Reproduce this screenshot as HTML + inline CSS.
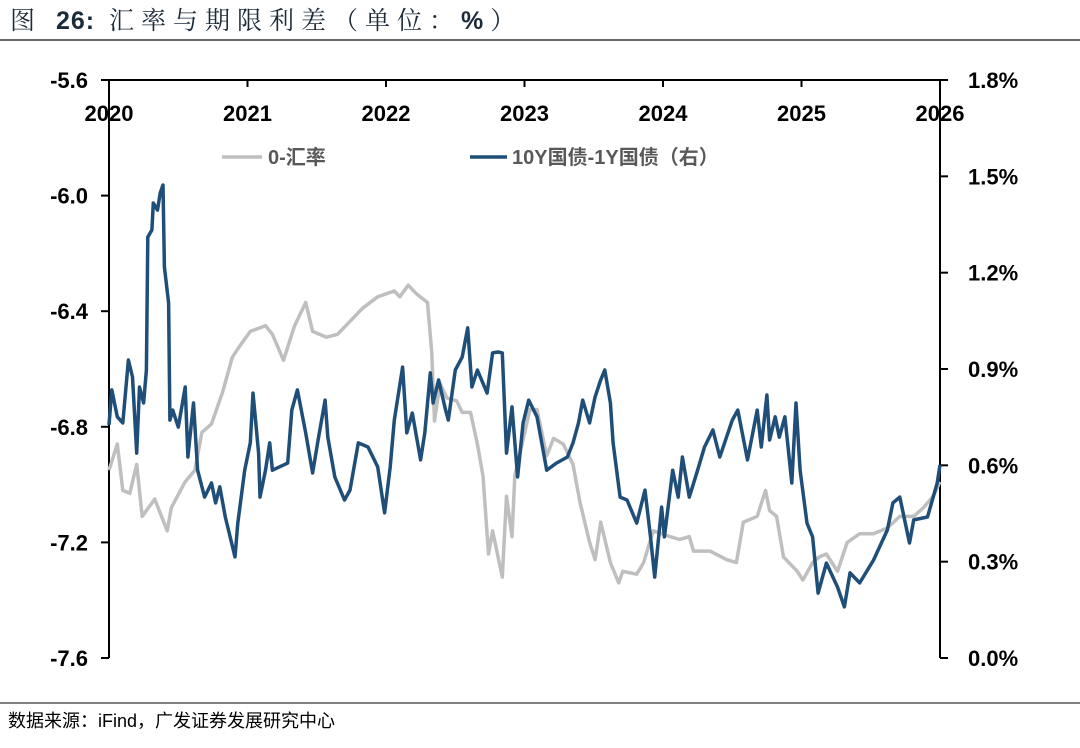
<!DOCTYPE html>
<html><head><meta charset="utf-8"><style>
body{margin:0;width:1080px;height:743px;background:#fff;overflow:hidden;font-family:"Liberation Sans","Noto Sans CJK SC",sans-serif}
</style></head><body>
<svg id="c" width="1080" height="743" xmlns="http://www.w3.org/2000/svg">
<text x="10" y="29" font-size="25" fill="#1c2b3a" letter-spacing="7" font-family="Liberation Sans, Noto Serif CJK SC, serif">图 <tspan font-weight="bold" font-family="Liberation Sans, sans-serif" letter-spacing="1">26:</tspan> 汇率与期限利差（单位：<tspan font-weight="bold" font-family="Liberation Sans, sans-serif">%</tspan>）</text>
<line x1="0" y1="40" x2="1080" y2="40" stroke="#333" stroke-width="1.5"/>
<line x1="0" y1="703" x2="1080" y2="703" stroke="#000" stroke-width="1"/>
<text x="8" y="727" font-size="18" fill="#000" font-family="Liberation Sans, Noto Sans CJK SC, sans-serif">数据来源：iFind，广发证券发展研究中心</text>
<g id="axes"></g><g id="series"></g>
<g>
<line x1="222" y1="157" x2="262" y2="157" stroke="#bfbfbf" stroke-width="3.5"/>
<text x="268" y="164" font-size="20" font-weight="bold" fill="#595959" font-family="Liberation Sans, Noto Sans CJK SC, sans-serif">0-汇率</text>
<line x1="470" y1="157" x2="507" y2="157" stroke="#1f4e79" stroke-width="3.5"/>
<text x="512" y="164" font-size="20" font-weight="bold" fill="#595959" font-family="Liberation Sans, Noto Sans CJK SC, sans-serif">10Y国债-1Y国债（右）</text>
</g>
</svg>
<script>
const yearTicks=[2020,2021,2022,2023,2024,2025,2026];
const leftTicks=[-5.6,-6.0,-6.4,-6.8,-7.2,-7.6];
const leftTickLabels=["-5.6","-6.0","-6.4","-6.8","-7.2","-7.6"];
const rightTicks=[1.8,1.5,1.2,0.9,0.6,0.3,0.0];
const rightTickLabels=["1.8%","1.5%","1.2%","0.9%","0.6%","0.3%","0.0%"];
const fxDates=[2020.00,2020.06,2020.10,2020.15,2020.20,2020.24,2020.33,2020.42,2020.45,2020.55,2020.62,2020.67,2020.74,2020.82,2020.89,2020.93,2021.02,2021.13,2021.18,2021.26,2021.34,2021.42,2021.47,2021.57,2021.65,2021.73,2021.83,2021.94,2022.06,2022.10,2022.16,2022.22,2022.30,2022.33,2022.35,2022.39,2022.44,2022.51,2022.55,2022.61,2022.66,2022.70,2022.74,2022.77,2022.84,2022.87,2022.91,2022.93,2023.04,2023.09,2023.16,2023.21,2023.28,2023.35,2023.40,2023.47,2023.51,2023.55,2023.62,2023.68,2023.71,2023.81,2023.86,2023.93,2024.05,2024.12,2024.19,2024.22,2024.34,2024.46,2024.53,2024.58,2024.68,2024.74,2024.77,2024.82,2024.87,2024.97,2025.01,2025.08,2025.13,2025.18,2025.26,2025.33,2025.42,2025.52,2025.62,2025.71,2025.81,2025.88,2025.95,2026.00];
const fxValues=[-6.95,-6.86,-7.02,-7.03,-6.93,-7.11,-7.05,-7.16,-7.08,-6.99,-6.95,-6.82,-6.79,-6.68,-6.56,-6.53,-6.47,-6.45,-6.48,-6.57,-6.45,-6.37,-6.47,-6.49,-6.48,-6.44,-6.39,-6.35,-6.33,-6.35,-6.31,-6.34,-6.37,-6.54,-6.78,-6.65,-6.70,-6.71,-6.75,-6.75,-6.86,-6.97,-7.24,-7.16,-7.32,-7.04,-7.18,-6.97,-6.74,-6.74,-6.90,-6.84,-6.86,-6.93,-7.06,-7.20,-7.26,-7.13,-7.27,-7.34,-7.30,-7.31,-7.27,-7.16,-7.18,-7.19,-7.18,-7.23,-7.23,-7.26,-7.27,-7.13,-7.11,-7.02,-7.09,-7.11,-7.25,-7.30,-7.33,-7.27,-7.25,-7.24,-7.30,-7.20,-7.17,-7.17,-7.15,-7.11,-7.11,-7.08,-7.04,-6.99];
const spDates=[2020.00,2020.02,2020.06,2020.10,2020.14,2020.17,2020.20,2020.22,2020.25,2020.27,2020.28,2020.31,2020.32,2020.35,2020.37,2020.39,2020.40,2020.43,2020.44,2020.46,2020.50,2020.55,2020.57,2020.61,2020.64,2020.69,2020.74,2020.77,2020.80,2020.84,2020.91,2020.93,2020.98,2021.02,2021.04,2021.08,2021.09,2021.13,2021.16,2021.18,2021.29,2021.32,2021.36,2021.42,2021.47,2021.51,2021.56,2021.58,2021.63,2021.70,2021.74,2021.80,2021.87,2021.94,2021.99,2022.03,2022.06,2022.12,2022.15,2022.19,2022.25,2022.28,2022.32,2022.34,2022.38,2022.43,2022.45,2022.50,2022.55,2022.59,2022.62,2022.66,2022.73,2022.77,2022.81,2022.84,2022.87,2022.91,2022.95,2022.99,2023.03,2023.09,2023.16,2023.23,2023.31,2023.35,2023.39,2023.42,2023.47,2023.51,2023.55,2023.58,2023.62,2023.64,2023.69,2023.74,2023.81,2023.87,2023.91,2023.94,2023.99,2024.01,2024.07,2024.11,2024.14,2024.19,2024.25,2024.30,2024.36,2024.41,2024.50,2024.54,2024.61,2024.68,2024.71,2024.75,2024.77,2024.81,2024.84,2024.88,2024.93,2024.96,2024.99,2025.04,2025.08,2025.12,2025.18,2025.26,2025.31,2025.35,2025.42,2025.52,2025.62,2025.66,2025.71,2025.78,2025.81,2025.91,2025.98,2026.00];
const spValues=[0.726,0.835,0.751,0.732,0.928,0.875,0.638,0.844,0.794,0.897,1.311,1.333,1.417,1.395,1.448,1.473,1.218,1.106,0.741,0.772,0.719,0.844,0.626,0.794,0.585,0.501,0.545,0.483,0.533,0.439,0.315,0.420,0.585,0.670,0.825,0.638,0.501,0.585,0.670,0.585,0.607,0.772,0.835,0.701,0.576,0.679,0.803,0.688,0.564,0.492,0.523,0.670,0.657,0.595,0.452,0.595,0.741,0.906,0.701,0.763,0.617,0.701,0.888,0.794,0.866,0.772,0.741,0.897,0.937,1.028,0.844,0.897,0.825,0.950,0.953,0.950,0.638,0.782,0.564,0.732,0.803,0.751,0.585,0.607,0.626,0.670,0.732,0.803,0.732,0.813,0.866,0.897,0.794,0.670,0.501,0.492,0.420,0.523,0.377,0.252,0.470,0.377,0.585,0.501,0.626,0.501,0.585,0.657,0.710,0.626,0.741,0.772,0.617,0.772,0.657,0.819,0.679,0.751,0.688,0.751,0.545,0.794,0.585,0.420,0.377,0.202,0.296,0.221,0.159,0.265,0.234,0.305,0.399,0.483,0.501,0.358,0.430,0.439,0.545,0.601];

const NS='http://www.w3.org/2000/svg';
const X0=109,X1=940,Y0=80,Y1=658;
function xs(t){return X0+(t-2020)/6*(X1-X0);}
function yl(v){return Y0+(-5.6-v)/2.0*(Y1-Y0);}
function yr(v){return Y1-v/1.8*(Y1-Y0);}
function mk(tag,attrs,parent){const e=document.createElementNS(NS,tag);for(const k in attrs)e.setAttribute(k,attrs[k]);parent.appendChild(e);return e;}
const ax=document.getElementById('axes');
const F='Liberation Sans, sans-serif';
let e;
e=mk('line',{x1:X0,y1:Y0,x2:X0,y2:Y1,stroke:'#000','stroke-width':2},ax);


e=mk('line',{x1:X1,y1:Y0,x2:X1,y2:Y1,stroke:'#000','stroke-width':2},ax);


e=mk('line',{x1:X0-8,y1:Y0,x2:X1+8,y2:Y0,stroke:'#000','stroke-width':2},ax);


leftTicks.forEach((v,i)=>{const y=yl(v);
 e=mk('line',{x1:X0-8,y1:y,x2:X0,y2:y,stroke:'#000','stroke-width':2},ax);
 
 
 e=mk('text',{x:88,y:y+8,'text-anchor':'end','font-size':22,'font-weight':'bold','font-family':F,fill:'#000'},ax);e.textContent=leftTickLabels[i];
 
 });
rightTicks.forEach((v,i)=>{const y=yr(v);
 e=mk('line',{x1:X1,y1:y,x2:X1+8,y2:y,stroke:'#000','stroke-width':2},ax);
 
 
 e=mk('text',{x:968,y:y+8,'font-size':22,'font-weight':'bold','font-family':F,fill:'#000'},ax);e.textContent=rightTickLabels[i];
 
 });
yearTicks.forEach(t=>{const x=xs(t);
 e=mk('line',{x1:x,y1:Y0,x2:x,y2:Y0+7,stroke:'#000','stroke-width':2},ax);
 
 
 e=mk('text',{x:x,y:121,'text-anchor':'middle','font-size':22,'font-weight':'bold','font-family':F,fill:'#000'},ax);e.textContent=String(t);
 
 });
const sg=document.getElementById('series');
const fxPts=fxDates.map((t,i)=>xs(t).toFixed(1)+','+yl(fxValues[i]).toFixed(1)).join(' ');
e=mk('polyline',{points:fxPts,fill:'none',stroke:'#bfbfbf','stroke-width':3.5,'stroke-linejoin':'round'},sg);


const spPts=spDates.map((t,i)=>xs(t).toFixed(1)+','+yr(spValues[i]).toFixed(1)).join(' ');
e=mk('polyline',{points:spPts,fill:'none',stroke:'#1f4e79','stroke-width':3.5,'stroke-linejoin':'round'},sg);


</script>
</body></html>
